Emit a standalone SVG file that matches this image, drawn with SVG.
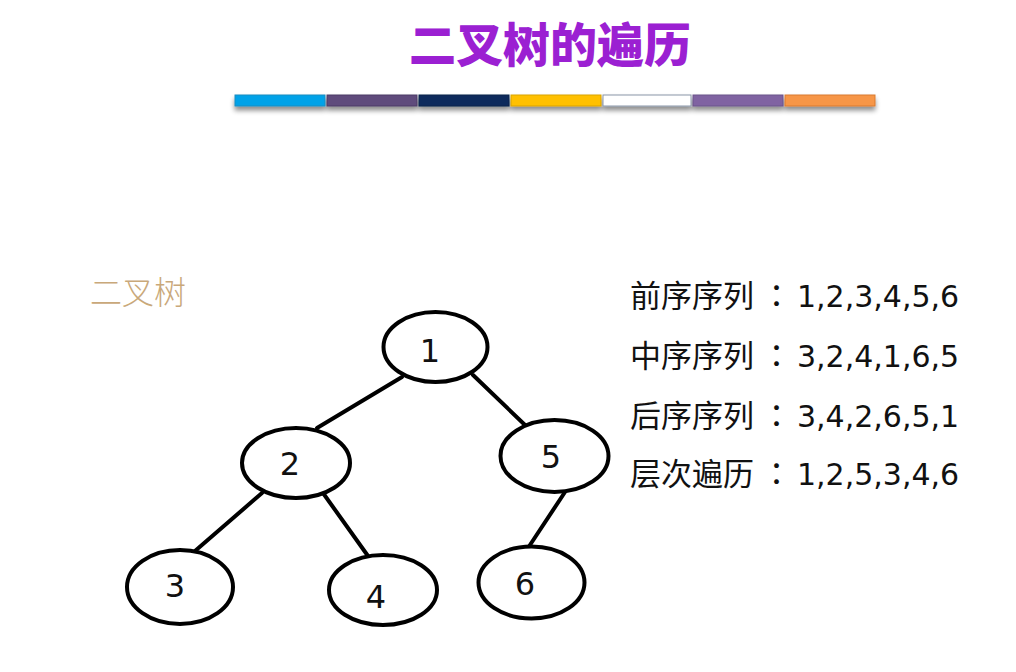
<svg xmlns="http://www.w3.org/2000/svg" width="1016" height="672" viewBox="0 0 1016 672">
  <style>
    .title { font-family: "Noto Sans CJK SC", sans-serif; font-weight: 900; font-size: 47px; fill: #9b20d2; }
    .label { font-family: "Noto Sans CJK SC", sans-serif; font-weight: 300; font-size: 32px; fill: #c9a87a; }
    .seq { font-family: "Noto Sans CJK SC", sans-serif; font-size: 31px; fill: #111; }
    .colon { font-family: "Noto Sans CJK TC", "Noto Sans CJK SC", sans-serif; }
    .num { font-family: "DejaVu Sans", "Noto Sans CJK SC", sans-serif; font-size: 30px; fill: #111; }
    .node ellipse { fill: #fff; stroke: #000; stroke-width: 4; }
    .node text { font-family: "DejaVu Sans", sans-serif; font-size: 32px; fill: #111; text-anchor: middle; }
    .edge { stroke: #000; stroke-width: 4; stroke-linecap: round; }
    .bar { stroke-width: 1; }
  </style>
  <defs>
    <filter id="shadow" x="-10%" y="-50%" width="120%" height="300%">
      <feGaussianBlur in="SourceAlpha" stdDeviation="2.5"/>
      <feOffset dx="0" dy="4" result="b"/>
      <feComponentTransfer><feFuncA type="linear" slope="0.45"/></feComponentTransfer>
      <feMerge><feMergeNode/><feMergeNode in="SourceGraphic"/></feMerge>
    </filter>
  </defs>
  <rect width="1016" height="672" fill="#ffffff"/>

  <text class="title" x="550" y="62" text-anchor="middle">二叉树的遍历</text>

  <g id="colorbar" filter="url(#shadow)">
    <rect class="bar" x="235" y="95" width="90" height="11" fill="#00a2e8" stroke="#1a8cc0"/>
    <rect class="bar" x="327" y="95" width="90" height="11" fill="#5f4b7b" stroke="#4d3d66"/>
    <rect class="bar" x="419" y="95" width="90" height="11" fill="#0e2a5c" stroke="#0a2048"/>
    <rect class="bar" x="511" y="95" width="90" height="11" fill="#ffc000" stroke="#d9a300"/>
    <rect class="bar" x="603" y="95" width="88" height="11" fill="#ffffff" stroke="#8a96a8"/>
    <rect class="bar" x="693" y="95" width="90" height="11" fill="#8064a2" stroke="#6a528a"/>
    <rect class="bar" x="785" y="95" width="90" height="11" fill="#f79646" stroke="#d97a30"/>
  </g>

  <text class="label" x="90" y="304">二叉树</text>

  <g id="sequences">
    <text class="seq" x="630" y="307">前序序列<tspan class="colon" x="761">：</tspan><tspan class="num" x="797">1,2,3,4,5,6</tspan></text>
    <text class="seq" x="630" y="367">中序序列<tspan class="colon" x="761">：</tspan><tspan class="num" x="797">3,2,4,1,6,5</tspan></text>
    <text class="seq" x="630" y="427">后序序列<tspan class="colon" x="761">：</tspan><tspan class="num" x="797">3,4,2,6,5,1</tspan></text>
    <text class="seq" x="630" y="485">层次遍历<tspan class="colon" x="761">：</tspan><tspan class="num" x="797">1,2,5,3,4,6</tspan></text>
  </g>

  <g id="connectors">
    <line class="edge" x1="402" y1="377" x2="317" y2="428"/>
    <line class="edge" x1="473" y1="375" x2="525" y2="425"/>
    <line class="edge" x1="262" y1="493" x2="195" y2="551"/>
    <line class="edge" x1="323" y1="493" x2="368" y2="556"/>
    <line class="edge" x1="565" y1="492" x2="528" y2="548"/>
  </g>

  <g id="node1" class="node"><ellipse cx="435.5" cy="347" rx="52" ry="35"/><text x="430" y="362">1</text></g>
  <g id="node2" class="node"><ellipse cx="296" cy="463" rx="54" ry="35"/><text x="290" y="475">2</text></g>
  <g id="node5" class="node"><ellipse cx="554.5" cy="456" rx="54" ry="36"/><text x="551" y="468">5</text></g>
  <g id="node3" class="node"><ellipse cx="180" cy="587" rx="53" ry="37"/><text x="175" y="597">3</text></g>
  <g id="node4" class="node"><ellipse cx="383" cy="590" rx="54" ry="35"/><text x="376" y="608">4</text></g>
  <g id="node6" class="node"><ellipse cx="531.5" cy="582.5" rx="53" ry="36"/><text x="525" y="595">6</text></g>
</svg>
